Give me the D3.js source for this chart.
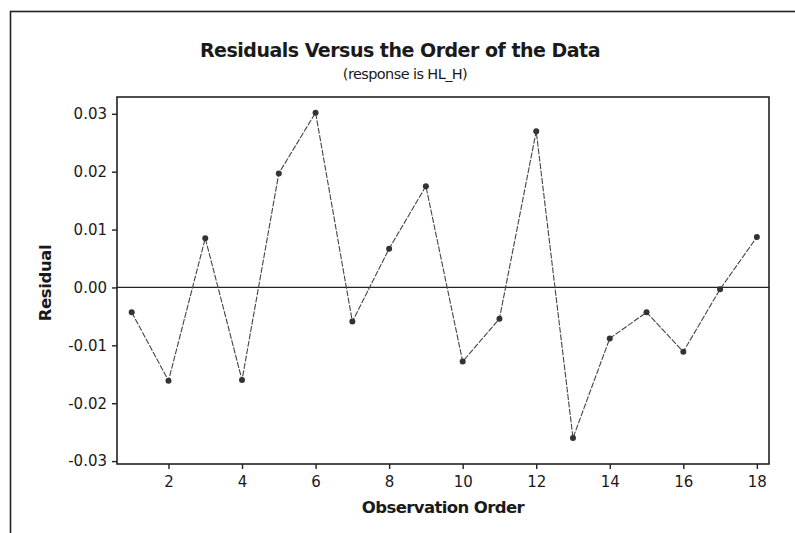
<!DOCTYPE html>
<html>
<head>
<meta charset="utf-8">
<script src="https://cdn.jsdelivr.net/npm/d3@7"></script>
<style>
  html,body{margin:0;padding:0;background:#fff;}
  svg{display:block;font-family:"DejaVu Sans",Verdana,sans-serif;}
</style>
</head>
<body>
<div id="chart"></div>
<script>
// observation order and residuals
const order=[1,2,3,4,5,6,7,8,9,10,11,12,13,14,15,16,17,18];
const residuals=[-0.0043,-0.0161,0.0085,-0.0160,0.0197,0.0302,-0.0059,0.0067,0.0175,
  -0.0128,-0.0054,0.0270,-0.0260,-0.0088,-0.0043,-0.0111,-0.0003,0.0087];
const xTicks=[2,4,6,8,10,12,14,16,18];
const yTicks=[-0.03,-0.02,-0.01,0,0.01,0.02,0.03];

(function(){
  const W=795,H=533;
  const m={top:97,right:26,bottom:69,left:117};
  const w=W-m.left-m.right, ih=H-m.top-m.bottom;
  const data=order.map((o,i)=>({x:o,y:residuals[i]}));
  const svg=d3.select("#chart").append("svg").attr("width",W).attr("height",H);

  // outer frame of the figure (runs off the page on the right/bottom)
  svg.append("rect").attr("x",10.5).attr("y",11.5).attr("width",W+20).attr("height",H+20)
    .attr("fill","none").attr("stroke","#222").attr("stroke-width",1.6);

  svg.append("text").attr("x",400).attr("y",57).attr("text-anchor","middle")
    .attr("font-size",19).attr("font-weight","bold").attr("letter-spacing",-0.5).attr("fill","#1a1a1a")
    .text("Residuals Versus the Order of the Data");
  svg.append("text").attr("x",405).attr("y",79).attr("text-anchor","middle")
    .attr("font-size",14.5).attr("letter-spacing",-0.6).attr("fill","#1a1a1a")
    .text("(response is HL_H)");

  const g=svg.append("g").attr("transform",`translate(${m.left},${m.top})`);
  const x=d3.scaleLinear().domain([0.6,18.33]).range([0,w]);
  const y=d3.scaleLinear().domain([-0.0305,0.0329]).range([ih,0]);

  g.append("g").attr("transform",`translate(0,${ih})`)
    .call(d3.axisBottom(x).tickValues(xTicks).tickSize(5).tickPadding(7).tickFormat(d3.format("d")))
    .call(s=>s.select(".domain").remove())
    .call(s=>s.selectAll("line").attr("stroke","#222").attr("stroke-width",1.4))
    .call(s=>s.selectAll("text").attr("fill","#1a1a1a").attr("font-size",15).attr("font-family","DejaVu Sans"));
  g.append("g")
    .call(d3.axisLeft(y).tickValues(yTicks).tickSize(5).tickPadding(5).tickFormat(d3.format(".2f")))
    .call(s=>s.select(".domain").remove())
    .call(s=>s.selectAll("line").attr("stroke","#222").attr("stroke-width",1.4))
    .call(s=>s.selectAll("text").attr("fill","#1a1a1a").attr("font-size",15).attr("font-family","DejaVu Sans")
      .text(d=>d3.format(".2f")(d).replace("−","-")));

  g.append("rect").attr("width",w).attr("height",ih).attr("fill","none")
    .attr("stroke","#222").attr("stroke-width",1.6);

  // zero reference line
  g.append("line").attr("x1",0).attr("x2",w).attr("y1",y(0)).attr("y2",y(0))
    .attr("stroke","#222").attr("stroke-width",1.3);

  const line=d3.line().x(d=>x(d.x)).y(d=>y(d.y));
  g.append("path").datum(data).attr("fill","none").attr("stroke","#444").attr("stroke-width",1.1)
    .attr("stroke-dasharray","6,1.5").attr("d",line);
  g.selectAll("circle").data(data).join("circle")
    .attr("cx",d=>x(d.x)).attr("cy",d=>y(d.y)).attr("r",3).attr("fill","#333");

  svg.append("text").attr("x",443).attr("y",513).attr("text-anchor","middle")
    .attr("font-size",16.5).attr("font-weight","bold").attr("letter-spacing",-0.6).attr("fill","#1a1a1a")
    .text("Observation Order");
  svg.append("text").attr("transform","translate(51,283) rotate(-90)").attr("text-anchor","middle")
    .attr("font-size",16.5).attr("font-weight","bold").attr("letter-spacing",-0.4).attr("fill","#1a1a1a")
    .text("Residual");
})();
</script>
</body>
</html>
